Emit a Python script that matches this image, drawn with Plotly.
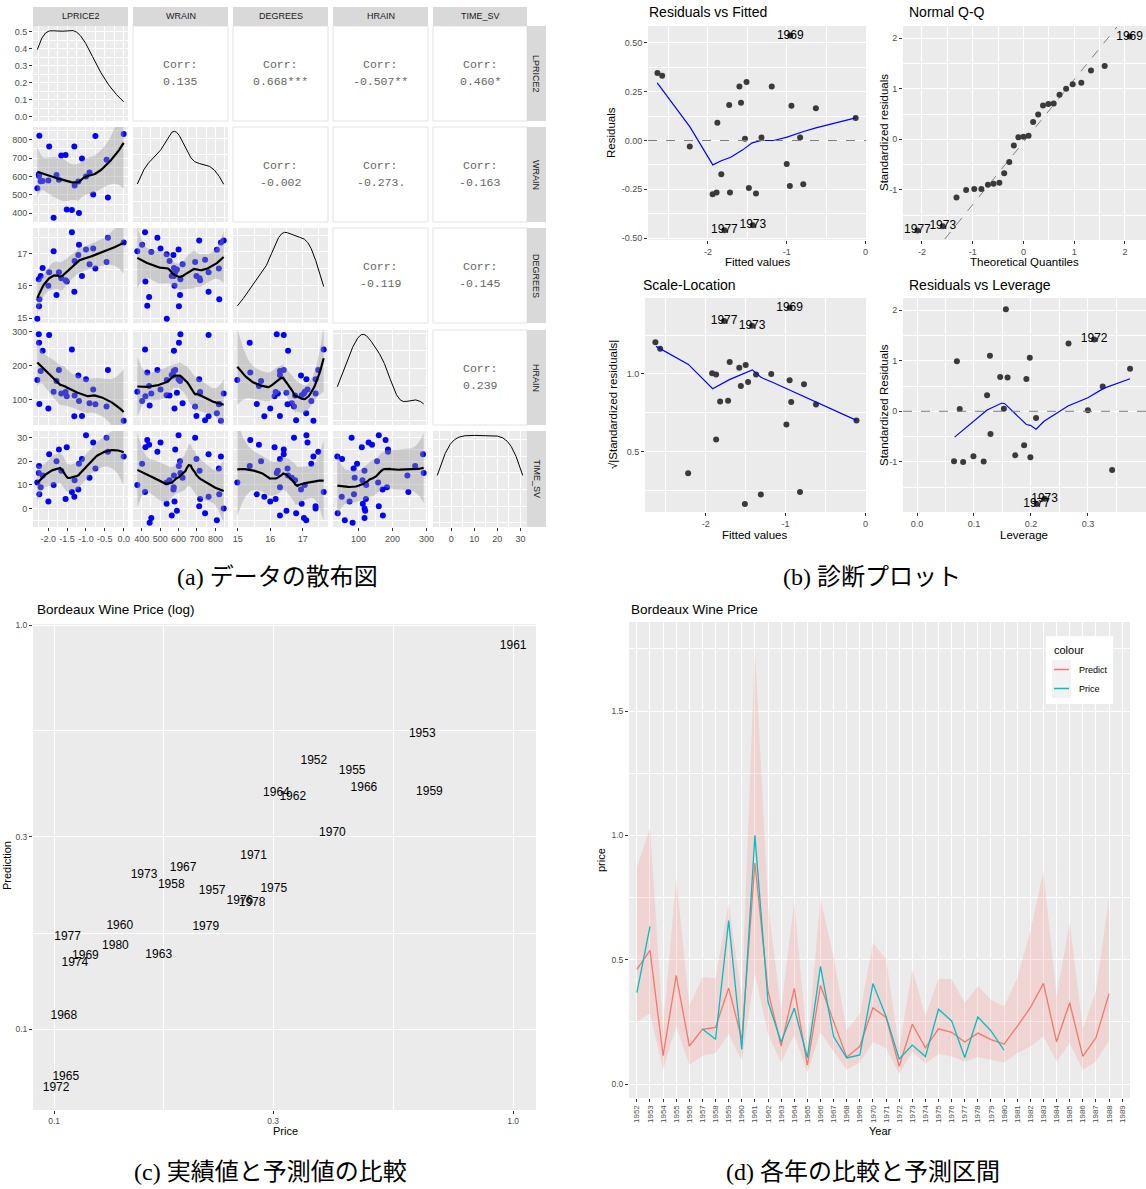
import numpy as np
import plotly.graph_objects as go

W, H = 1146, 1189
FONT = "Liberation Sans, Arial, sans-serif"
MONO = "Liberation Mono, Courier New, monospace"
CAP_FONT = "Liberation Serif, Noto Sans CJK JP, serif"
TICK_COL = "#4D4D4D"

# ------------------------------------------------------------------ data
year_labels = ["1952", "1953", "1954", "1955", "1956", "1957", "1958", "1959", "1960", "1961",
               "1962", "1963", "1964", "1965", "1966", "1967", "1968", "1969", "1970", "1971",
               "1972", "1973", "1974", "1975", "1976", "1977", "1978", "1979", "1980", "1981",
               "1982", "1983", "1984", "1985", "1986", "1987", "1988", "1989"]

lprice2 = [-0.99868, -0.4544, None, -0.80796, None, -1.50926, -1.71655, -0.418, -1.97491, 0.0,
           -1.10572, -1.78098, -1.18435, -2.24194, -0.74943, -1.65388, -2.25018, -2.14784, -0.90544,
           -1.30031, -2.28879, -1.857, -2.19958, -1.20168, -1.37264, -2.23503, -1.30769, -1.5396,
           -1.99582, None, None, None, None, None, None, None, None, None]
wrain = [600, 690, 430, 502, 440, 420, 582, 485, 763, 830, 697, 608, 402, 602, 819, 714, 610, 575,
         622, 551, 536, 376, 574, 572, 418, 821, 763, 717, 578, 535, 712, 845, 591, 744, 563, 452,
         808, 443]
degrees = [17.1167, 16.7333, 15.3833, 17.15, 15.65, 16.1333, 16.4167, 17.4833, 16.4167, 17.3333,
           16.3, 15.7167, 17.2667, 15.3667, 16.5333, 16.2333, 16.2, 16.55, 16.6667, 16.7667, 14.9833,
           17.0667, 16.3, 16.95, 17.65, 15.5833, 15.8167, 16.1667, 16.0, 16.97, 17.4, 17.4, 16.5,
           16.8, 16.3, 17.04, 17.11, None]
hrain = [160, 80, 180, 130, 140, 110, 187, 187, 290, 38, 52, 155, 96, 267, 86, 118, 292, 244, 89,
         112, 158, 123, 184, 171, 247, 87, 51, 122, 74, 113, 160, 118, 120, 39, 172, 118, 60, 83]
time_sv = [31, 30, 29, 28, 27, 26, 25, 24, 23, 22, 21, 20, 19, 18, 17, 16, 15, 14, 13, 12, 11, 10,
           9, 8, 7, 6, 5, 4, 3, 2, 1, 0, -1, -2, -3, -4, -5, -6]

var_names = ["LPRICE2", "WRAIN", "DEGREES", "HRAIN", "TIME_SV"]
corr_text = ["0.135", "0.668***", "-0.507**", "0.460*", "-0.002", "-0.273.", "-0.163",
             "-0.119", "-0.145", "0.239"]

ticks_lprice2 = [-2.0, -1.5, -1.0, -0.5, 0.0]
labels_lprice2 = ["-2.0", "-1.5", "-1.0", "-0.5", "0.0"]
ticks_wrain = [400, 500, 600, 700, 800]
labels_wrain = ["400", "500", "600", "700", "800"]
ticks_degrees = [15, 16, 17]
labels_degrees = ["15", "16", "17"]
ticks_hrain = [100, 200, 300]
labels_hrain = ["100", "200", "300"]
ticks_time = [0, 10, 20, 30]
labels_time = ["0", "10", "20", "30"]
ticks_density = [0.0, 0.1, 0.2, 0.3, 0.4, 0.5]
labels_density = ["0.0", "0.1", "0.2", "0.3", "0.4", "0.5"]

# diagnostics of the log-price regression
rvf_fit = [-2.64, -2.58, -2.23, -1.94, -1.89, -1.88, -1.83, -1.73, -1.72, -1.60, -1.58, -1.53,
           -1.51, -1.48, -1.39, -1.32, -1.19, -1.00, -0.96, -0.94, -0.83, -0.79, -0.63, -0.125]
rvf_res = [0.346, 0.332, -0.031, -0.276, -0.267, 0.091, -0.173, 0.182, -0.267, 0.277, 0.193, 0.009,
           0.300, -0.243, -0.272, 0.015, 0.277, -0.120, -0.233, 0.178, 0.015, -0.224, 0.166, 0.116]
rvf_lab_year = ["1969", "1977", "1973"]
rvf_lab_fit = [-0.955, -1.79, -1.43]
rvf_lab_res = [0.538, -0.46, -0.435]
rvf_smooth_x = [-2.643, -2.228, -1.938, -1.83, -1.71, -1.558, -1.438, -1.32, -1.165, -0.996,
                -0.786, -0.63, -0.125]
rvf_smooth_y = [0.295, 0.070, -0.125, -0.104, -0.086, -0.048, -0.012, 0.0, 0.0, 0.017, 0.046,
                0.065, 0.116]

qq_theo = [-1.32, -1.13, -0.97, -0.83, -0.70, -0.59, -0.475, -0.38, -0.28, -0.19, -0.10, 0.0,
           0.10, 0.19, 0.29, 0.385, 0.49, 0.595, 0.71, 0.84, 0.97, 1.14, 1.33, 1.60]
qq_std = [-1.15, -1.0, -0.98, -0.98, -0.90, -0.88, -0.86, -0.67, -0.45, -0.12, 0.04, 0.05, 0.07,
          0.34, 0.49, 0.67, 0.70, 0.71, 0.88, 1.0, 1.09, 1.12, 1.36, 1.45]
qq_lab_year = ["1969", "1977", "1973"]
qq_lab_theo = [2.09, -2.09, -1.59]
qq_lab_std = [2.03, -1.80, -1.72]
qq_line_x = [-1.55, 1.84]
qq_line_y = [-1.97, 2.22]

sl_fit = [-2.63, -2.57, -2.22, -1.92, -1.87, -1.87, -1.82, -1.72, -1.70, -1.58, -1.56, -1.50,
          -1.51, -1.47, -1.37, -1.31, -1.18, -0.99, -0.95, -0.93, -0.82, -0.77, -0.62, -0.113]
sl_root = [1.203, 1.162, 0.361, 1.004, 0.996, 0.578, 0.823, 0.827, 1.076, 1.039, 0.922, 1.058,
           0.164, 0.948, 0.996, 0.225, 1.0, 0.675, 0.959, 0.820, 0.240, 0.933, 0.803, 0.701]
sl_lab_year = ["1969", "1977", "1973"]
sl_lab_fit = [-0.95, -1.77, -1.42]
sl_lab_root = [1.426, 1.34, 1.31]
sl_smooth_x = [-2.622, -2.217, -1.913, -1.704, -1.417, -1.309, -1.165, -0.774, -0.113]
sl_smooth_y = [1.177, 1.061, 0.905, 0.963, 1.026, 0.978, 0.946, 0.855, 0.701]

lev_h = [0.070, 0.075, 0.065, 0.081, 0.099, 0.117, 0.123, 0.128, 0.129, 0.146, 0.1525, 0.156,
         0.159, 0.1725, 0.188, 0.192, 0.198, 0.199, 0.209, 0.266, 0.300, 0.326, 0.3425, 0.374]
lev_std = [0.99, 0.046, -0.985, -1.0, -0.89, -0.99, 0.32, 1.10, -0.45, 0.68, 0.05, 2.02, 0.67,
           -0.87, -0.67, 0.64, 1.06, -0.91, -0.13, 1.34, 0.02, 0.49, -1.16, 0.84]
lev_lab_year = ["1972", "1973", "1977"]
lev_lab_h = [0.311, 0.224, 0.21]
lev_lab_std = [1.42, -1.73, -1.83]
lev_smooth_x = [0.066, 0.099, 0.123, 0.149, 0.154, 0.192, 0.199, 0.209, 0.223, 0.265, 0.30,
                0.3275, 0.374]
lev_smooth_y = [-0.51, -0.20, 0.026, 0.164, 0.151, -0.26, -0.276, -0.355, -0.197, 0.105, 0.269,
                0.453, 0.643]

# actual and predicted price (relative to 1961) with the 95% prediction interval
price = [0.368, 0.634, None, 0.446, None, 0.221, 0.180, 0.657, 0.139, 1.000, 0.331, 0.169, 0.305,
         0.106, 0.473, 0.191, 0.105, 0.117, 0.404, 0.272, 0.101, 0.157, 0.111, 0.301, 0.254,
         0.107, 0.270, 0.214, 0.136, None, None, None, None, None, None, None, None, None]
predict = [0.461, 0.538, 0.114, 0.437, 0.153, 0.220, 0.228, 0.386, 0.180, 0.889, 0.375, 0.153,
           0.385, 0.0763, 0.396, 0.251, 0.108, 0.152, 0.307, 0.268, 0.0716, 0.241, 0.146, 0.222,
           0.208, 0.169, 0.205, 0.179, 0.161, 0.232, 0.307, 0.405, 0.170, 0.327, 0.111, 0.186,
           0.363, None]
pi_lower = [0.25, 0.285, 0.058, 0.232, 0.078, 0.114, 0.125, 0.201, 0.095, 0.446, 0.20, 0.087,
            0.198, 0.047, 0.208, 0.131, 0.058, 0.087, 0.169, 0.145, 0.042, 0.131, 0.082, 0.122,
            0.111, 0.091, 0.109, 0.098, 0.087, 0.125, 0.151, 0.192, 0.091, 0.165, 0.058, 0.091,
            0.176, None]
pi_upper = [0.87, 1.03, 0.22, 0.83, 0.312, 0.430, 0.426, 0.728, 0.35, 1.75, 0.72, 0.30, 0.735,
            0.15, 0.744, 0.51, 0.216, 0.283, 0.567, 0.503, 0.14, 0.462, 0.275, 0.422, 0.422,
            0.326, 0.393, 0.339, 0.312, 0.426, 0.614, 0.855, 0.353, 0.650, 0.221, 0.373, 0.748,
            None]

log_ticks = [0.1, 0.3, 1.0]
log_labels = ["0.1", "0.3", "1.0"]
price_ticks = [0.0, 0.5, 1.0, 1.5]
price_labels = ["0.0", "0.5", "1.0", "1.5"]

captions = ["(a) データの散布図", "(b) 診断プロット", "(c) 実績値と予測値の比較", "(d) 各年の比較と予測区間"]

# ------------------------------------------------------------------ helpers
def fx(px):
    return px / W


def fy(py):
    return 1 - py / H


def kde(vals):
    v = np.asarray(vals, float)
    n = len(v)
    sd = v.std(ddof=1)
    q75, q25 = np.percentile(v, [75, 25])
    bw = 0.9 * min(sd, (q75 - q25) / 1.34) * n ** -0.2
    g = np.linspace(v.min(), v.max(), 512)
    d = np.exp(-0.5 * ((g[:, None] - v[None, :]) / bw) ** 2).sum(1) / (n * bw * np.sqrt(2 * np.pi))
    return g, d


def t975(df):
    z = 1.959964
    return z + (z ** 3 + z) / (4 * df) + (5 * z ** 5 + 16 * z ** 3 + 3 * z) / (96 * df ** 2)


def loess(x, y, grid, span=0.75):
    x = np.asarray(x, float)
    y = np.asarray(y, float)
    n = len(x)
    q = int(np.floor(n * span))

    def row(x0):
        d = np.abs(x - x0)
        h = np.sort(d)[q - 1]
        w = np.clip(1 - (d / h) ** 3, 0, None) ** 3
        X = np.column_stack([np.ones(n), x - x0, (x - x0) ** 2])
        XtW = X.T * w
        return np.linalg.solve(XtW @ X, XtW)[0]

    L = np.array([row(v) for v in x])
    res = y - L @ y
    IL = np.eye(n) - L
    M = IL.T @ IL
    d1 = np.trace(M)
    d2 = np.trace(M @ M)
    sigma = np.sqrt(np.sum(res ** 2) / d1)
    G = np.array([row(v) for v in grid])
    fit = G @ y
    se = sigma * np.sqrt(np.sum(G ** 2, axis=1))
    t = t975(d1 ** 2 / d2)
    return fit, fit - t * se, fit + t * se


def pairs(a, b):
    xs, ys = [], []
    for u, v in zip(a, b):
        if u is not None and v is not None:
            xs.append(u)
            ys.append(v)
    return np.array(xs, float), np.array(ys, float)


def padded(vals, frac=0.05):
    v = np.array([u for u in vals if u is not None], float)
    lo, hi = v.min(), v.max()
    p = (hi - lo) * frac
    return [lo - p, hi + p]


def midpoints(ticks, rng):
    step = ticks[1] - ticks[0]
    cand = [t - step / 2 for t in ticks] + [ticks[-1] + step / 2]
    return [c for c in cand if rng[0] <= c <= rng[1]]


def nice_step(raw):
    mag = 10 ** np.floor(np.log10(raw))
    for m in (1, 2, 2.5, 5, 10):
        if m * mag >= raw:
            return m * mag
    return 10 * mag


layout = dict(
    template="none",
    width=W, height=H, margin=dict(l=0, r=0, t=0, b=0, pad=0, autoexpand=False),
    paper_bgcolor="white", plot_bgcolor="#EBEBEB",
    font=dict(family=FONT, color="black"), showlegend=False,
    hovermode=False,
)
traces = []
shapes = []
annotations = []
axis_counter = [0]


def axis(rng, tickvals=None, ticktext=None, minor=None, labels=True, size=9, **extra):
    d = dict(range=rng, showgrid=True, gridcolor="white", gridwidth=1, zeroline=False,
             showline=False, ticks="outside" if labels else "", ticklen=3, tickwidth=1,
             tickcolor="#333333", showticklabels=labels, automargin=False,
             tickfont=dict(family=FONT, size=size, color=TICK_COL), layer="below traces")
    if tickvals is not None:
        d.update(tickmode="array", tickvals=tickvals, ticktext=ticktext)
    if minor is not None:
        d["minor"] = dict(tickmode="array", tickvals=minor, showgrid=True, gridcolor="white",
                          gridwidth=0.5)
    d.update(extra)
    return d


def add_axes(box, xa, ya):
    axis_counter[0] += 1
    k = axis_counter[0]
    s = "" if k == 1 else str(k)
    x0, x1, y0, y1 = box
    layout["xaxis" + s] = dict(domain=[fx(x0), fx(x1)], anchor="y" + s, **xa)
    layout["yaxis" + s] = dict(domain=[fy(y1), fy(y0)], anchor="x" + s, **ya)
    return "x" + s, "y" + s


def text(x, y, s, size=12, color="black", family=FONT, xanchor="center", angle=0, **kw):
    annotations.append(dict(x=fx(x), y=fy(y), xref="paper", yref="paper", text=s,
                            showarrow=False, xanchor=xanchor, yanchor="middle",
                            textangle=angle, font=dict(family=family, size=size, color=color),
                            **kw))


def rect(x0, y0, x1, y1, fill, line=None, layer="below"):
    shapes.append(dict(type="rect", xref="paper", yref="paper", x0=fx(x0), x1=fx(x1),
                       y0=fy(y1), y1=fy(y0), fillcolor=fill, layer=layer,
                       line=dict(width=1 if line else 0, color=line or fill)))


# ------------------------------------------------------------------ (a) scatter matrix
columns = [lprice2, wrain, degrees, hrain, time_sv]
tick_sets = [(ticks_lprice2, labels_lprice2), (ticks_wrain, labels_wrain),
             (ticks_degrees, labels_degrees), (ticks_hrain, labels_hrain),
             (ticks_time, labels_time)]
col_x = [(33, 128), (133, 228), (233, 328), (333, 428), (433, 527)]
row_y = [(26, 121), (127, 222), (228, 323), (330, 425), (431, 527)]
ranges = [padded(c) for c in columns]

corr_iter = iter(corr_text)
for i in range(5):
    for j in range(5):
        x0, x1 = col_x[j]
        y0, y1 = row_y[i]
        if j > i:
            rect(x0, y0, x1, y1, "white", line="#E3E3E3")
            xc, yc = (x0 + x1) / 2, (y0 + y1) / 2
            text(xc, yc - 9, "Corr:", size=11.5, color="#666666", family=MONO)
            text(xc, yc + 8, next(corr_iter), size=11.5, color="#666666", family=MONO)
            continue
        tv, tt = tick_sets[j]
        xa = axis(ranges[j], tv, tt, midpoints(tv, ranges[j]), labels=(i == 4))
        if i == j:
            g, d = kde([v for v in columns[i] if v is not None])
            yr = [-0.05 * d.max(), 1.05 * d.max()]
            if i == 0:
                ya = axis(yr, ticks_density, labels_density, midpoints(ticks_density, yr))
            else:
                step = nice_step(d.max() / 3)
                maj = list(np.arange(0, yr[1] + 1e-12, step))
                ya = axis(yr, maj, [""] * len(maj), midpoints(maj, yr), labels=False)
            xr, yrf = add_axes((x0, x1, y0, y1), xa, ya)
            traces.append(go.Scatter(x=g, y=d, mode="lines", line=dict(color="black", width=1),
                                     xaxis=xr, yaxis=yrf))
        else:
            tv2, tt2 = tick_sets[i]
            ya = axis(ranges[i], tv2, tt2, midpoints(tv2, ranges[i]), labels=(j == 0))
            xr, yrf = add_axes((x0, x1, y0, y1), xa, ya)
            px_, py_ = pairs(columns[j], columns[i])
            traces.append(go.Scatter(x=px_, y=py_, mode="markers",
                                     marker=dict(color="#0000FF", size=6),
                                     xaxis=xr, yaxis=yrf))
            grid = np.linspace(px_.min(), px_.max(), 80)
            fit, lo, hi = loess(px_, py_, grid)
            traces.append(go.Scatter(x=np.concatenate([grid, grid[::-1]]),
                                     y=np.concatenate([hi, lo[::-1]]), mode="lines",
                                     fill="toself", fillcolor="rgba(153,153,153,0.4)",
                                     line=dict(width=0), xaxis=xr, yaxis=yrf))
            traces.append(go.Scatter(x=grid, y=fit, mode="lines",
                                     line=dict(color="black", width=2.2), xaxis=xr, yaxis=yrf))

for j, name in enumerate(var_names):
    x0, x1 = col_x[j]
    rect(x0, 7, x1, 26, "#D9D9D9")
    text((x0 + x1) / 2, 16.5, name, size=9, color="#1A1A1A")
for i, name in enumerate(var_names):
    y0, y1 = row_y[i]
    rect(527, y0, 546, y1, "#D9D9D9")
    text(536.5, (y0 + y1) / 2, name, size=9, color="#1A1A1A", angle=90)

# ------------------------------------------------------------------ (b) diagnostics
PT = dict(color="#3A3A3A", size=6)


def diag_panel(box, xa, ya, px_, py_, lx, ly, ltxt, sx=None, sy=None, hline=False,
               dash_x=None, dash_y=None):
    xr, yr = add_axes(box, xa, ya)
    if hline:
        shapes.append(dict(type="line", xref=xr + " domain", x0=0, x1=1, yref=yr, y0=0, y1=0,
                           layer="above", line=dict(color="#7F7F7F", width=1, dash="dash")))
    if dash_x is not None:
        traces.append(go.Scatter(x=dash_x, y=dash_y, mode="lines",
                                 line=dict(color="#7F7F7F", width=1, dash="dash"),
                                 xaxis=xr, yaxis=yr))
    traces.append(go.Scatter(x=list(px_) + list(lx), y=list(py_) + list(ly), mode="markers",
                             marker=PT, xaxis=xr, yaxis=yr))
    if sx is not None:
        traces.append(go.Scatter(x=sx, y=sy, mode="lines", line=dict(color="#0000FF", width=1.2),
                                 xaxis=xr, yaxis=yr))
    traces.append(go.Scatter(x=lx, y=ly, mode="text", text=ltxt, textposition="middle center",
                             textfont=dict(family=FONT, size=12, color="black"),
                             xaxis=xr, yaxis=yr))


fit_rng = [-2.76, 0.006]
rvf_yr = [-0.51, 0.587]
diag_panel((648, 866, 26, 240),
           axis(fit_rng, [-2, -1, 0], ["-2", "-1", "0"], [-2.5, -1.5, -0.5]),
           axis(rvf_yr, [-0.5, -0.25, 0, 0.25, 0.5], ["-0.50", "-0.25", "0.00", "0.25", "0.50"],
                [-0.375, -0.125, 0.125, 0.375]),
           rvf_fit, rvf_res, rvf_lab_fit, rvf_lab_res, rvf_lab_year,
           rvf_smooth_x, rvf_smooth_y, hline=True)

qq_xr = [-2.374, 2.414]
std_yr = [-1.99, 2.24]
diag_panel((903, 1146, 26, 240),
           axis(qq_xr, [-2, -1, 0, 1, 2], ["-2", "-1", "0", "1", "2"], [-1.5, -0.5, 0.5, 1.5]),
           axis(std_yr, [-1, 0, 1, 2], ["-1", "0", "1", "2"], [-1.5, -0.5, 0.5, 1.5]),
           qq_theo, qq_std, qq_lab_theo, qq_lab_std, qq_lab_year,
           dash_x=qq_line_x, dash_y=qq_line_y)

sl_yr = [0.112, 1.488]
diag_panel((645, 866, 298, 512),
           axis(fit_rng, [-2, -1, 0], ["-2", "-1", "0"], [-2.5, -1.5, -0.5]),
           axis(sl_yr, [0.5, 1.0], ["0.5", "1.0"], [0.25, 0.75, 1.25]),
           sl_fit, sl_root, sl_lab_fit, sl_lab_root, sl_lab_year, sl_smooth_x, sl_smooth_y)

lev_xr = [-0.0246, 0.402]
diag_panel((903, 1146, 298, 512),
           axis(lev_xr, [0.0, 0.1, 0.2, 0.3], ["0.0", "0.1", "0.2", "0.3"],
                [0.05, 0.15, 0.25, 0.35]),
           axis(std_yr, [-1, 0, 1, 2], ["-1", "0", "1", "2"], [-1.5, -0.5, 0.5, 1.5]),
           lev_h, lev_std, lev_lab_h, lev_lab_std, lev_lab_year, lev_smooth_x, lev_smooth_y,
           hline=True)

text(647, 12, "Residuals vs Fitted", size=14, xanchor="left")
text(907, 12, "Normal Q-Q", size=14, xanchor="left")
text(641, 285, "Scale-Location", size=14, xanchor="left")
text(907, 285, "Residuals vs Leverage", size=14, xanchor="left")
text(757, 262, "Fitted values", size=11.5)
text(1024, 262, "Theoretical Quantiles", size=11.5)
text(754, 535, "Fitted values", size=11.5)
text(1024, 535, "Leverage", size=11.5)
text(611, 133, "Residuals", size=11.5, angle=-90)
text(884, 133, "Standardized residuals", size=11.5, angle=-90)
text(613, 405, "√|Standardized residuals|", size=11.5, angle=-90)
text(884, 405, "Standardized Residuals", size=11.5, angle=-90)

# ------------------------------------------------------------------ (c) actual vs predicted (log)
c_year, c_price, c_pred = [], [], []
for yl, pr, pd_ in zip(year_labels, price, predict):
    if pr is not None and pd_ is not None:
        c_year.append(yl)
        c_price.append(pr)
        c_pred.append(pd_)

xr, yr = add_axes((33, 536, 624, 1110),
                  axis([-1.046, 0.0498], log_ticks, log_labels, [0.173, 0.548], size=8.5,
                       type="log"),
                  axis([-1.2, 0.0036], log_ticks, log_labels, [0.173, 0.548], size=8.5,
                       type="log"))
traces.append(go.Scatter(x=c_price, y=c_pred, mode="text", text=c_year,
                         textposition="middle center",
                         textfont=dict(family=FONT, size=12, color="black"), xaxis=xr, yaxis=yr))
text(35, 609, "Bordeaux Wine Price (log)", size=13.5, xanchor="left")
text(285, 1131, "Price", size=11)
text(7, 866, "Prediction", size=11, angle=-90)

# ------------------------------------------------------------------ (d) price by year
d_yr = [-0.056, 1.858]
xr, yr = add_axes((629, 1130, 622, 1098),
                  axis([-0.6, 37.6], size=8, type="category", categoryorder="array",
                       categoryarray=year_labels, tickangle=-90, tickmode="array",
                       tickvals=year_labels, ticktext=year_labels),
                  axis(d_yr, price_ticks, price_labels, [0.25, 0.75, 1.25, 1.75], size=8.5))
band_years = [yl for yl, u in zip(year_labels, pi_upper) if u is not None]
band_up = [u for u in pi_upper if u is not None]
band_lo = [v for v in pi_lower if v is not None]
traces.append(go.Scatter(x=band_years + band_years[::-1], y=band_up + band_lo[::-1],
                         mode="lines", fill="toself", fillcolor="rgba(248,118,109,0.2)",
                         line=dict(width=0), xaxis=xr, yaxis=yr))
traces.append(go.Scatter(x=year_labels, y=predict, mode="lines", name="Predict",
                         line=dict(color="#F8766D", width=1.3), connectgaps=False,
                         xaxis=xr, yaxis=yr))
traces.append(go.Scatter(x=year_labels, y=price, mode="lines", name="Price",
                         line=dict(color="#00BFC4", width=1.3), connectgaps=False,
                         xaxis=xr, yaxis=yr))
text(629, 609, "Bordeaux Wine Price", size=13.5, xanchor="left")
text(880, 1131, "Year", size=11)
text(601, 860, "price", size=11, angle=-90)

# legend box
rect(1046, 636, 1113, 704, "white", layer="above")
text(1052, 650, "colour", size=11, xanchor="left")
legend_items = [("Predict", "#F8766D"), ("Price", "#00BFC4")]
for k, (name, col) in enumerate(legend_items):
    ky = 660 + 19 * k
    rect(1052, ky, 1071, ky + 19, "#F2F2F2", layer="above")
    shapes.append(dict(type="line", xref="paper", yref="paper", x0=fx(1054), x1=fx(1069),
                       y0=fy(ky + 9.5), y1=fy(ky + 9.5), layer="above",
                       line=dict(color=col, width=1.5)))
    text(1077, ky + 9.5, name, size=9, xanchor="left")

# ------------------------------------------------------------------ captions
for (cx, cy), cap in zip([(277, 577), (872, 577), (270, 1172), (863, 1172)], captions):
    text(cx, cy, cap, size=24, family=CAP_FONT)

for t in traces:
    t.update(showlegend=False, hoverinfo="skip")

layout["shapes"] = shapes
layout["annotations"] = annotations
fig = go.Figure(data=traces, layout=layout)
fig.write_html("out.html")
